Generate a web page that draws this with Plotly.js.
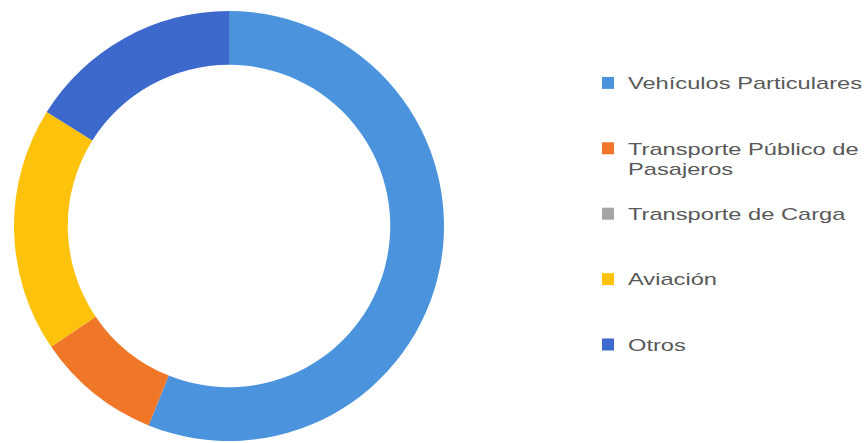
<!DOCTYPE html>
<html>
<head>
<meta charset="utf-8">
<script src="https://cdn.plot.ly/plotly-3.0.1.min.js"></script>
<style>
html, body { margin: 0; padding: 0; background: #ffffff; }
#chart { width: 868px; height: 443px; }
/* the reference legend lettering is drawn wider than the plain font */
#chart .legendtext {
  transform-box: fill-box;
  transform-origin: 0 50%;
  transform: scaleX(1.48);
}
#chart .legend .scrollbox, #chart .legend { clip-path: none !important; }
</style>
</head>
<body>
<div id="chart"></div>
<script>
const categories = [
  "Vehículos Particulares",
  "Transporte Público de<br>Pasajeros",
  "Transporte de Carga",
  "Aviación",
  "Otros"
];
const shares = [56.1, 9.4, 0, 18.4, 16.1];
const sliceColors = ["#4b94dd", "#f07628", "#a5a5a5", "#fcc20c", "#3d68cc"];

// pad every legend entry to three text lines so the legend rows are evenly spaced
const legendLabels = categories.map(function (c) {
  const n = c.split("<br>").length;
  let s = c;
  for (let i = n; i < 3; i++) s += "<br>&nbsp;";
  return s;
});

const W = 868, H = 443;
const trace = {
  type: "pie",
  labels: legendLabels,
  values: shares,
  customdata: categories,
  hole: 0.75,
  sort: false,
  direction: "clockwise",
  rotation: 0,
  textinfo: "none",
  hovertemplate: "%{customdata}: %{value}%<extra></extra>",
  marker: { colors: sliceColors, line: { width: 0 } },
  domain: { x: [13 / W, 445 / W], y: [2 / H, 432 / H] }
};

const layout = {
  width: W,
  height: H,
  margin: { l: 0, r: 0, t: 0, b: 0 },
  paper_bgcolor: "#ffffff",
  showlegend: true,
  legend: {
    x: 588 / W,
    xanchor: "left",
    y: 1 - 66 / H,
    yanchor: "top",
    valign: "top",
    font: { family: "Liberation Sans, Arial, sans-serif", size: 16, color: "#595959" },
    bgcolor: "rgba(0,0,0,0)"
  }
};

Plotly.newPlot("chart", [trace], layout, { displayModeBar: false, staticPlot: true });
</script>
</body>
</html>
